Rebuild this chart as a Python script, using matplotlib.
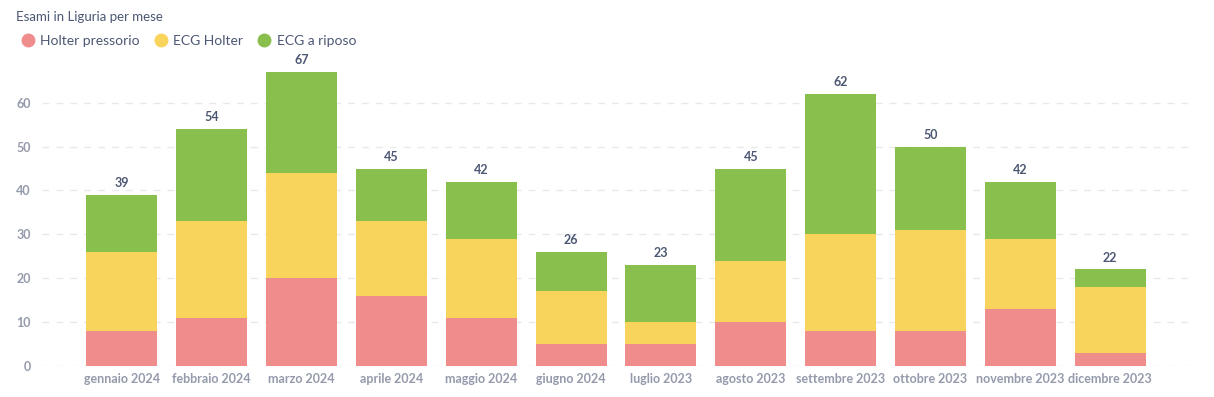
import matplotlib.pyplot as plt
from matplotlib.lines import Line2D
import numpy as np

mesi = ['gennaio 2024', 'febbraio 2024', 'marzo 2024', 'aprile 2024', 'maggio 2024',
        'giugno 2024', 'luglio 2023', 'agosto 2023', 'settembre 2023', 'ottobre 2023',
        'novembre 2023', 'dicembre 2023']
holter_pressorio = [8, 11, 20, 16, 11, 5, 5, 10, 8, 8, 13, 3]
ecg_holter = [18, 22, 24, 17, 18, 12, 5, 14, 22, 23, 16, 15]
ecg_riposo = [13, 21, 23, 12, 13, 9, 13, 21, 32, 19, 13, 4]

serie = ['Holter pressorio', 'ECG Holter', 'ECG a riposo']
colori = ['#EF8C8C', '#F9D45C', '#88BF4D']

plt.rcParams['font.family'] = ['Lato', 'DejaVu Sans']

fig = plt.figure(figsize=(12.14, 3.97), dpi=100)
ax = fig.add_axes([42/1214, 31/397, (1190-42)/1214, (366-50)/397])

x = np.arange(len(mesi))
base = np.zeros(len(mesi))
for vals, col in zip([holter_pressorio, ecg_holter, ecg_riposo], colori):
    ax.bar(x, vals, width=0.79, bottom=base, color=col, zorder=3)
    base = base + np.array(vals)

# totali sopra le barre
for xi, tot in zip(x, base):
    ax.text(xi, tot + 1.3, str(int(tot)), ha='center', va='bottom',
            fontsize=9, fontweight='bold', color='#4C5773')

ax.set_xlim(-0.89, len(mesi) - 1 + 0.89)
ax.set_ylim(0, 72)
ax.set_yticks(range(0, 61, 10))
ax.set_xticks(x)
ax.set_xticklabels(mesi)
ax.yaxis.grid(True, linestyle=(0, (5, 5)), color='#E8E9EC', linewidth=1, zorder=0)
for s in ax.spines.values():
    s.set_visible(False)
ax.tick_params(axis='both', length=0, labelsize=9, labelcolor='#949AAB')
ax.tick_params(axis='y', pad=8)
ax.tick_params(axis='x', pad=5)
for lab in ax.get_xticklabels() + ax.get_yticklabels():
    lab.set_fontweight('bold')

fig.text(16/1214, 1 - 17/397, 'Esami in Liguria per mese', fontsize=9.5,
         color='#4C5773', va='center', ha='left')

handles = [Line2D([], [], marker='o', linestyle='', markersize=9, color=c) for c in colori]
fig.legend(handles, serie, loc='center left', bbox_to_anchor=(7/1214, 1 - 41/397),
           ncol=3, frameon=False, fontsize=10, handletextpad=0.3, columnspacing=0.9,
           handlelength=1.2, labelcolor='#4C5773')

fig.savefig('out.png', dpi=100)
